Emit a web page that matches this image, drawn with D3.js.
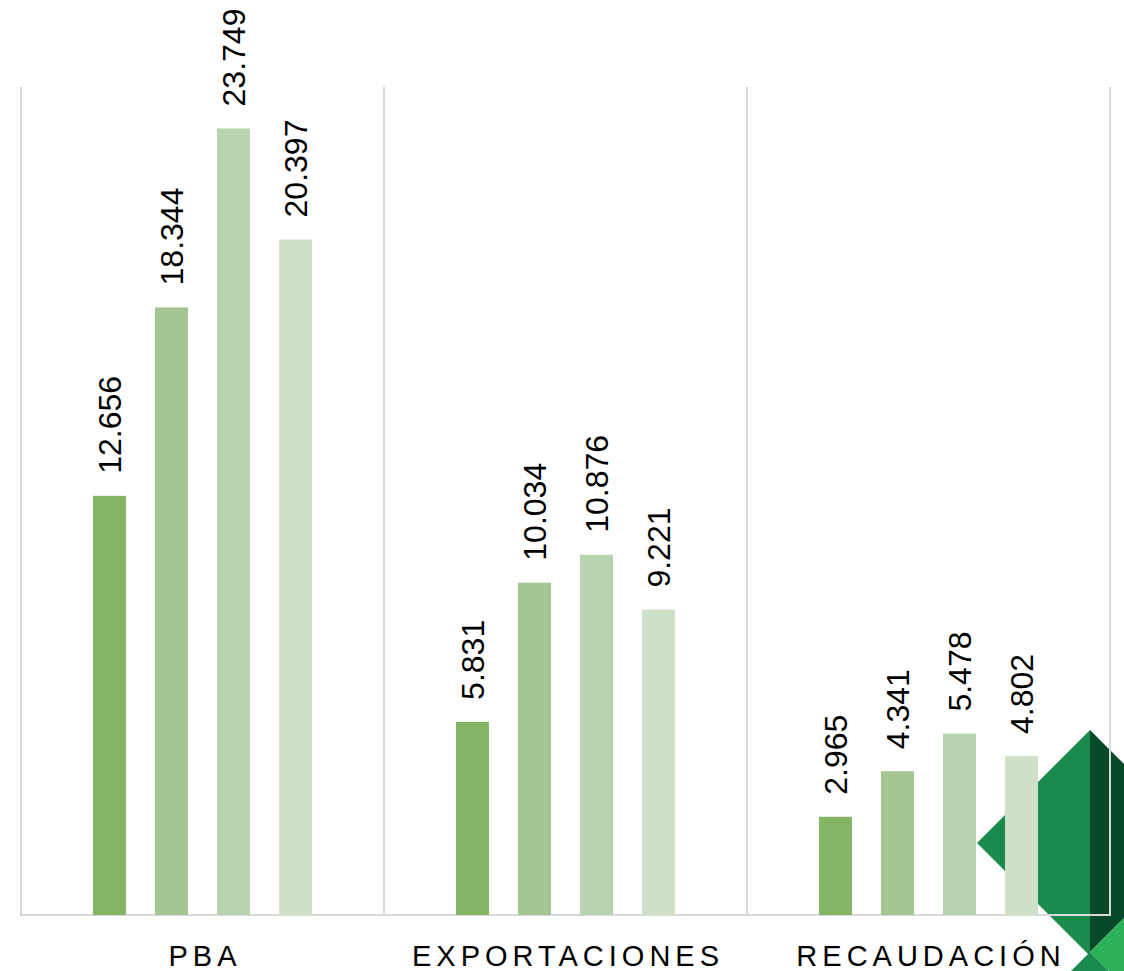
<!DOCTYPE html>
<html>
<head>
<meta charset="utf-8">
<script src="https://cdn.jsdelivr.net/npm/d3@7"></script>
<style>
  html, body { margin: 0; padding: 0; background: #ffffff; }
  svg { display: block; }
</style>
</head>
<body>
<div id="chart"></div>
<script>
// ---- data ----
const categories = ["PBA", "EXPORTACIONES", "RECAUDACIÓN"];
const series = ["Serie 1", "Serie 2", "Serie 3", "Serie 4"];
const serie1 = [12.656, 5.831, 2.965];
const serie2 = [18.344, 10.034, 4.341];
const serie3 = [23.749, 10.876, 5.478];
const serie4 = [20.397, 9.221, 4.802];
const seriesValues = [serie1, serie2, serie3, serie4];
const seriesColors = ["#83b565", "#a3c692", "#b8d3af", "#cfe0c8"];
const yMax = 25;

// ---- layout ----
const W = 1124, H = 971;
const plot = { left: 21, right: 1110, top: 87, bottom: 915 };

const svg = d3.select("#chart").append("svg")
  .attr("width", W).attr("height", H)
  .attr("viewBox", `0 0 ${W} ${H}`);

svg.append("rect").attr("width", W).attr("height", H).attr("fill", "#ffffff");

// ---- decoration (bottom-right corner) ----
const deco = svg.append("g");
const decoShapes = [
  { fill: "#1a8a4e", pts: [[977, 843], [1090, 730], [1090, 956], [1090, 956]] },
  { fill: "#064a29", pts: [[1090, 730], [1124, 764], [1124, 918], [1090, 952]] },
  { fill: "#1a8a4e", pts: [[1090, 952], [1071, 971], [1109, 971]] },
  { fill: "#2cb055", pts: [[1090, 952], [1124, 918], [1124, 971], [1109, 971]] }
];
deco.selectAll("polygon").data(decoShapes).join("polygon")
  .attr("points", d => d.pts.map(p => p.join(",")).join(" "))
  .attr("fill", d => d.fill);

// ---- scales ----
const x0 = d3.scaleBand().domain(categories).range([plot.left, plot.right]).padding(0);
const x1 = d3.scaleBand().domain(series).range([0, x0.bandwidth()])
  .paddingInner(0.468).paddingOuter(1.16);
const y = d3.scaleLinear().domain([0, yMax]).range([plot.bottom, plot.top]);

// ---- grid: category separators + baseline ----
const grid = svg.append("g");
const edges = categories.map(c => x0(c)).concat([x0(categories[categories.length - 1]) + x0.bandwidth()]);
grid.selectAll("line.sep").data(edges).join("line")
  .attr("class", "sep")
  .attr("x1", d => d).attr("x2", d => d)
  .attr("y1", y(yMax)).attr("y2", y(0))
  .attr("stroke", "#d9d9d9").attr("stroke-width", 2);
grid.append("line")
  .attr("x1", x0.range()[0] - 1).attr("x2", x0.range()[1] + 1)
  .attr("y1", y(0)).attr("y2", y(0))
  .attr("stroke", "#d9d9d9").attr("stroke-width", 2);

// ---- bars ----
const flat = [];
categories.forEach((c, ci) => {
  series.forEach((s, si) => {
    flat.push({ cat: c, ser: s, si: si, value: seriesValues[si][ci] });
  });
});

const bars = svg.append("g");
bars.selectAll("rect").data(flat).join("rect")
  .attr("x", d => x0(d.cat) + x1(d.ser))
  .attr("y", d => y(d.value))
  .attr("width", x1.bandwidth())
  .attr("height", d => y(0) - y(d.value))
  .attr("fill", d => seriesColors[d.si]);

// ---- value labels (rotated) ----
const fmt = v => v.toFixed(3);
svg.append("g").selectAll("text").data(flat).join("text")
  .attr("transform", d => `translate(${x0(d.cat) + x1(d.ser) + x1.bandwidth() / 2},${y(d.value) - 22}) rotate(-90)`)
  .attr("dy", "0.36em")
  .attr("text-anchor", "start")
  .attr("font-family", "'Liberation Sans', Arial, sans-serif")
  .attr("font-size", 32)
  .attr("fill", "#000000")
  .text(d => fmt(d.value));

// ---- category axis labels ----
const xAxis = d3.axisBottom(x0).tickSize(0).tickPadding(0);
const axisG = svg.append("g")
  .attr("transform", `translate(0,${y(0)})`)
  .call(xAxis);
axisG.select(".domain").remove();
axisG.selectAll("text")
  .attr("y", 51)
  .attr("dy", 0)
  .attr("dx", 2.5)
  .attr("font-family", "'Liberation Sans', Arial, sans-serif")
  .attr("font-size", 29)
  .attr("letter-spacing", 5)
  .attr("fill", "#000000");
</script>
</body>
</html>
